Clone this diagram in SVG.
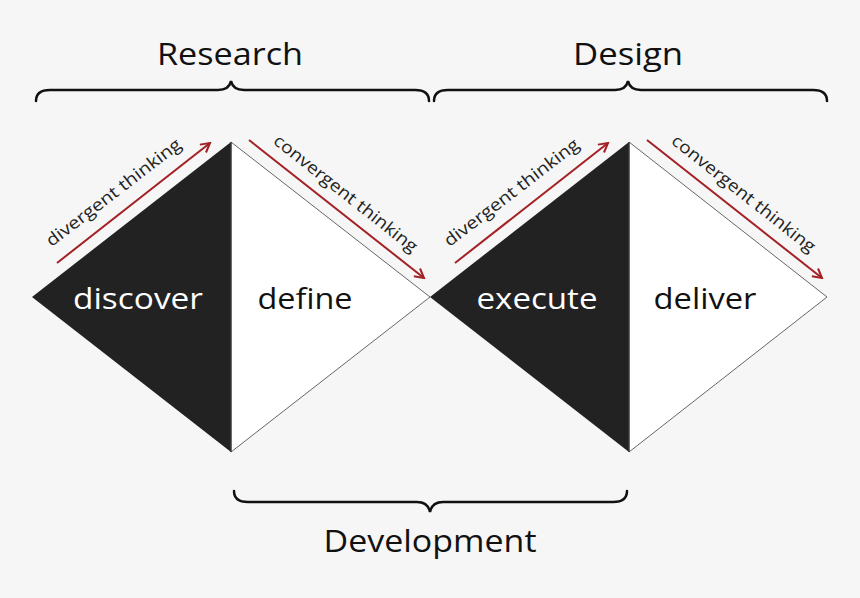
<svg xmlns="http://www.w3.org/2000/svg" width="860" height="598" viewBox="0 0 860 598">
<style>
.t{font-family:"Open Sans",Lato,"Liberation Sans",sans-serif;}
.big{font-size:31px;fill:#111;text-anchor:middle;}
.lab{font-size:30px;text-anchor:middle;}
.sm{font-size:17px;fill:#222;text-anchor:middle;}
.brace{fill:none;stroke:#111;stroke-width:2.5;stroke-linecap:round;}
.arr{stroke:#a32024;stroke-width:2;fill:none;}
.dark{fill:#222;}
.light{fill:#fff;stroke:#666;stroke-width:1;}
</style>
<defs>
<marker id="ah" viewBox="0 0 12 12" refX="10" refY="6" markerWidth="12" markerHeight="12" markerUnits="userSpaceOnUse" orient="auto">
<path d="M1,1 L10,6 L1,11" fill="none" stroke="#a32024" stroke-width="2"/>
</marker>
</defs>
<rect width="860" height="598" fill="#f6f6f6"/>
<g id="discover">
<polygon class="dark" points="32,297 231,142 231,452"/>
<text class="t lab" x="138" y="309" fill="#fff" textLength="130" lengthAdjust="spacingAndGlyphs">discover</text>
</g>
<g id="define">
<polygon class="light" points="231,142 430,297 231,452"/>
<line x1="231" y1="142" x2="231" y2="452" stroke="#222" stroke-width="1"/>
<text class="t lab" x="305" y="309" fill="#111" textLength="95" lengthAdjust="spacingAndGlyphs">define</text>
</g>
<g id="execute">
<polygon class="dark" points="430,297 629,142 629,452"/>
<text class="t lab" x="537" y="309" fill="#fff" textLength="121" lengthAdjust="spacingAndGlyphs">execute</text>
</g>
<g id="deliver">
<polygon class="light" points="629,142 827,297 629,452"/>
<line x1="629" y1="142" x2="629" y2="452" stroke="#222" stroke-width="1"/>
<text class="t lab" x="705" y="309" fill="#111" textLength="103" lengthAdjust="spacingAndGlyphs">deliver</text>
</g>
<g id="research">
<path class="brace" d="M36,101 Q36,90 50,90 L218,90 Q229,90 231,81 Q233,90 244,90 L415,90 Q429,90 429,101"/>
<text class="t big" x="230" y="65" textLength="146" lengthAdjust="spacingAndGlyphs">Research</text>
</g>
<g id="design">
<path class="brace" d="M434,101 Q434,90 448,90 L615,90 Q626,90 628,81 Q630,90 641,90 L813,90 Q827,90 827,101"/>
<text class="t big" x="628" y="65" textLength="110" lengthAdjust="spacingAndGlyphs">Design</text>
</g>
<g id="development">
<path class="brace" d="M234,491 Q234,502 248,502 L417,502 Q428,502 430,512 Q432,502 443,502 L613,502 Q627,502 627,491"/>
<text class="t big" x="430" y="552" textLength="213" lengthAdjust="spacingAndGlyphs">Development</text>
</g>
<g id="connectors">
<line class="arr" x1="57" y1="263" x2="210" y2="143" marker-end="url(#ah)"/>
<line class="arr" x1="249" y1="140" x2="424" y2="278" marker-end="url(#ah)"/>
<line class="arr" x1="455" y1="263" x2="608" y2="143" marker-end="url(#ah)"/>
<line class="arr" x1="647" y1="140" x2="822" y2="278" marker-end="url(#ah)"/>
</g>
<g id="labels">
<text class="t sm" transform="translate(117,197) rotate(-37.5)" textLength="165" lengthAdjust="spacingAndGlyphs">divergent thinking</text>
<text class="t sm" transform="translate(342,198) rotate(38.3)" textLength="178" lengthAdjust="spacingAndGlyphs">convergent thinking</text>
<text class="t sm" transform="translate(515,197) rotate(-37.5)" textLength="165" lengthAdjust="spacingAndGlyphs">divergent thinking</text>
<text class="t sm" transform="translate(740,198) rotate(38.3)" textLength="178" lengthAdjust="spacingAndGlyphs">convergent thinking</text>
</g>
</svg>
